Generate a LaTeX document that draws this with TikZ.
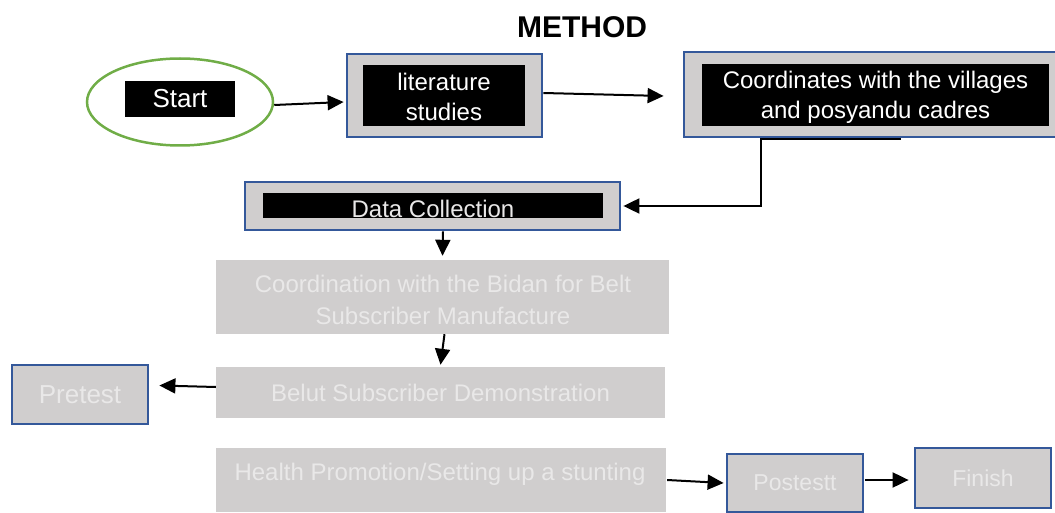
\documentclass[tikz,border=0pt]{standalone}
\usepackage{fontspec}
\setmainfont{Liberation Sans}
\usetikzlibrary{shapes.geometric,arrows.meta,calc}

\definecolor{frameblue}{HTML}{34589A}
\definecolor{panelgray}{HTML}{D0CECE}
\definecolor{palegray}{HTML}{E9E8E8}
\definecolor{startgreen}{HTML}{70AD47}

\tikzset{
  txt/.style={font=\fontsize{24}{30}\selectfont, align=center, inner sep=0pt},
  bigtxt/.style={font=\fontsize{26}{30}\selectfont, align=center, inner sep=0pt},
  framebox/.style={draw=frameblue, line width=2.8pt, fill=panelgray, inner sep=0pt},
  bar/.style={fill=black, inner sep=0pt},
  panel/.style={fill=panelgray, inner sep=0pt},
  conn/.style={line width=2pt, -{Triangle[length=16pt,width=15pt]}},
}

\begin{document}
\begin{tikzpicture}[x=1pt, y=-1pt]
  \clip (0,0) rectangle (1055,513);

  % title
  \node[font=\fontsize{30}{36}\selectfont\bfseries, inner sep=0pt] (title) at (582,27) {METHOD};

  % start ellipse
  \node[ellipse, draw=startgreen, line width=2.5pt, minimum width=186pt, minimum height=87pt, inner sep=0pt] (start) at (180,102) {};
  \node[bar, minimum width=110pt, minimum height=36pt] (startbar) at (180,99) {};
  \node[bigtxt, text=white] (starttxt) at (180,99) {Start};

  % literature studies
  \node[framebox, minimum width=195pt, minimum height=83pt] (lit) at (444.5,95.5) {};
  \node[bar, minimum width=162pt, minimum height=61pt] (litbar) at (444,95.5) {};
  \node[txt, text=white] (littxt) at (444,96.5) {literature\\studies};

  % coordination with villages
  \node[framebox, minimum width=390pt, minimum height=85pt] (coord) at (879,94.5) {};
  \node[bar, minimum width=347pt, minimum height=62pt] (coordbar) at (875.5,95) {};
  \node[txt, text=white] (coordtxt) at (875.5,97) {Coordinates with the villages\\and posyandu cadres};

  % data collection
  \node[framebox, minimum width=375pt, minimum height=48pt] (data) at (432.5,206) {};
  \node[bar, minimum width=340pt, minimum height=25pt] (databar) at (433,205.5) {};
  \node[txt, text=palegray] (datatxt) at (433,208.5) {Data Collection};

  % grey steps
  \node[panel, minimum width=453pt, minimum height=74pt] (coordn) at (442.5,297) {};
  \node[txt, text=palegray] (coordntxt) at (443,300) {Coordination with the Bidan for Belt\\[2pt]Subscriber Manufacture};
  \node[panel, minimum width=449pt, minimum height=51pt] (belut) at (440.5,392.5) {};
  \node[txt, text=palegray] (beluttxt) at (440.5,393) {Belut Subscriber Demonstration};
  \node[panel, minimum width=450pt, minimum height=64pt] (health) at (441,480) {};
  \node[txt, text=palegray] (healthtxt) at (440,474.5) {Health Promotion/Setting up a stunting};

  % framed small boxes
  \node[framebox, bigtxt, text=palegray, minimum width=136pt, minimum height=59pt] (pretest) at (80,394.5) {Pretest};
  \node[framebox, font=\fontsize{23}{28}\selectfont, text=palegray, minimum width=136pt, minimum height=58pt] (postest) at (795,483) {Postestt};
  \node[framebox, font=\fontsize{23}{28}\selectfont, text=palegray, minimum width=136pt, minimum height=60pt] (finish) at (983,478) {Finish};

  % connectors
  \draw[conn] ($(start.east)+(0,3)$) -- ($(lit.west)+(-2,6.5)$);
  \draw[conn] ($(lit.east)+(0,-2.5)$) -- ($(coord.west)+(-19,1.5)$);
  \coordinate (bend) at ($(coord.south west)+(218,0.5)$);
  \draw[conn] (bend) -- ($(coord.south west)+(78,0.5)$) |- ($(data.east)+(2,0)$);
  \draw[conn] ($(data.south)+(10.5,0)$) -- ($(coordn.north)+(0,-4)$);
  \draw[conn] ($(coordn.south)+(2,0)$) -- ($(belut.north)+(0,-2)$);
  \draw[conn] ($(belut.west)+(0,-5.5)$) -- ($(pretest.east)+(10,-9)$);
  \draw[conn] ($(health.east)+(1,0)$) -- ($(postest.west)+(-2,0)$);
  \draw[conn] ($(postest.east)+(1,-3)$) -- ($(finish.west)+(-5,2)$);
\end{tikzpicture}
\end{document}
